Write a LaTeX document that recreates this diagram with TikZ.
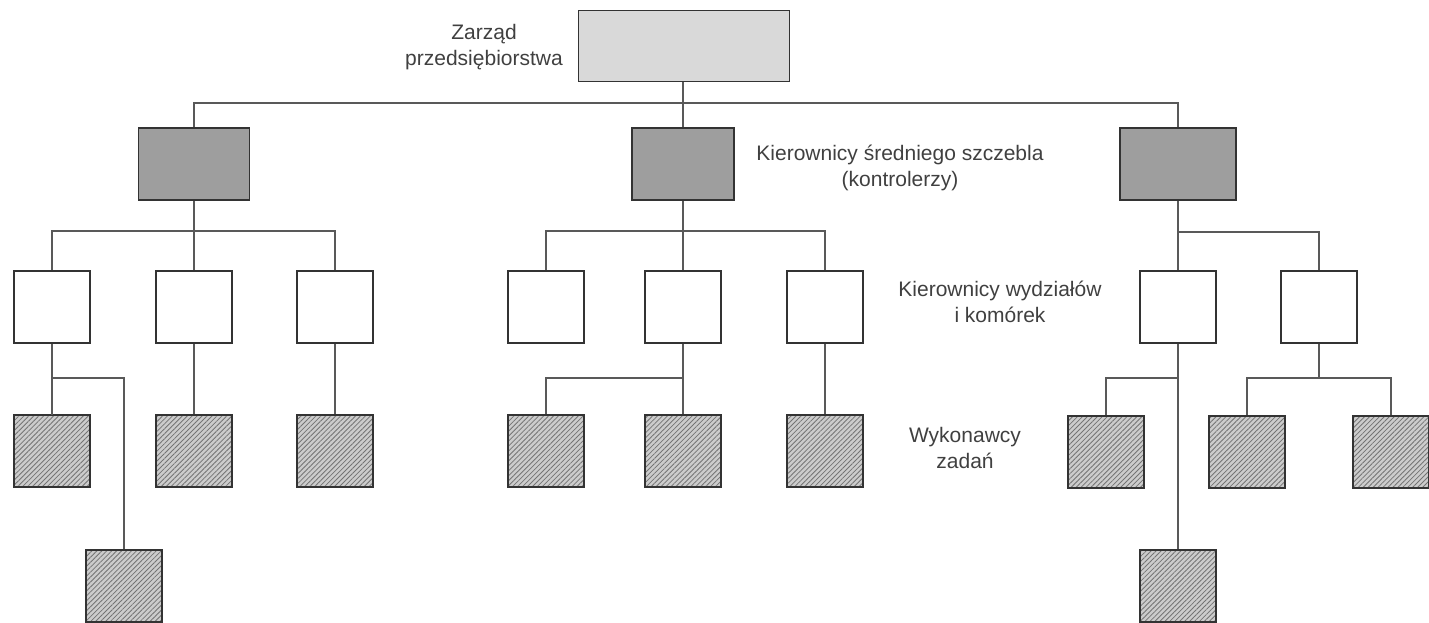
\documentclass[tikz,border=0pt]{standalone}
\usepackage{fontspec}
\setmainfont{Liberation Sans}
\usetikzlibrary{patterns.meta, calc}

\begin{document}
\begin{tikzpicture}[x=1pt, y=-1pt,
  box/.style={draw=black!80, line width=1.8pt, minimum height=72pt, inner sep=0pt},
  topbox/.style={box, fill=black!15, minimum width=211pt, minimum height=71pt},
  midbox/.style={box, fill=black!38},
  deptbox/.style={box, fill=white, minimum width=76pt},
  workbox/.style={box, minimum width=76pt, preaction={fill=black!20},
    pattern={Lines[angle=45, distance=3.5pt, line width=0.8pt]}, pattern color=black!55},
  lbl/.style={align=center, text=black!75, font=\fontsize{21}{26}\selectfont},
  link/.style={draw=black!65, line width=1.2pt}]
	\useasboundingbox (0,0) rectangle (1429,623);
	\node [topbox] (zarzad) at (684,46) {};
	\node [midbox, minimum width=111pt] (m1) at (194,164) {};
	\node [midbox, minimum width=102pt] (m2) at (683,164) {};
	\node [midbox, minimum width=116pt] (m3) at (1178,164) {};
	\node [deptbox] (k1) at (52,307) {};
	\node [deptbox] (k2) at (194,307) {};
	\node [deptbox] (k3) at (335,307) {};
	\node [deptbox] (k4) at (546,307) {};
	\node [deptbox] (k5) at (683,307) {};
	\node [deptbox] (k6) at (825,307) {};
	\node [deptbox] (k7) at (1178,307) {};
	\node [deptbox] (k8) at (1319,307) {};
	\node [workbox] (w1) at (52,451) {};
	\node [workbox] (w2) at (194,451) {};
	\node [workbox] (w3) at (335,451) {};
	\node [workbox] (w4) at (546,451) {};
	\node [workbox] (w5) at (683,451) {};
	\node [workbox] (w6) at (825,451) {};
	\node [workbox] (w7) at (1106,452) {};
	\node [workbox] (w8) at (1247,452) {};
	\node [workbox] (w9) at (1391,452) {};
	\node [workbox] (w10) at (124,586) {};
	\node [workbox] (w11) at (1178,586) {};
	\node [lbl] (lzarzad) at (484,47) {Zarząd\\przedsiębiorstwa};
	\node [lbl] (lsrednie) at (900,168) {Kierownicy średniego szczebla\\(kontrolerzy)};
	\node [lbl] (lwydzialy) at (1000,302) {Kierownicy wydziałów\\i komórek};
	\node [lbl] (lwykonawcy) at (965,448) {Wykonawcy\\zadań};
	\coordinate (b0) at (683,103);
	\coordinate (b1) at (194,231);
	\coordinate (b2) at (683,231);
	\coordinate (b3) at (1178,232);
	\coordinate (b4) at (52,378);
	\coordinate (b5) at (683,378);
	\coordinate (b6) at (1178,378);
	\coordinate (b7) at (1319,378);
	\draw [link] (zarzad.south -| b0) -- (m2.north);
	\draw [link] (m1.north) |- (b0) -| (m3.north);
	\draw [link] (m1) -- (k2);
	\draw [link] (k1.north) |- (b1) -| (k3.north);
	\draw [link] (m2) -- (k5);
	\draw [link] (k4.north) |- (b2) -| (k6.north);
	\draw [link] (m3) -- (k7);
	\draw [link] (k8.north) |- (b3);
	\draw [link] (k1) -- (w1);
	\draw [link] (w10.north) |- (b4);
	\draw [link] (k2) -- (w2);
	\draw [link] (k3) -- (w3);
	\draw [link] (k5) -- (w5);
	\draw [link] (w4.north) |- (b5);
	\draw [link] (k6) -- (w6);
	\draw [link] (k7) -- (w11);
	\draw [link] (w7.north) |- (b6);
	\draw [link] (k8.south) -- (b7);
	\draw [link] (w8.north) |- (b7) -| (w9.north);
\end{tikzpicture}
\end{document}
